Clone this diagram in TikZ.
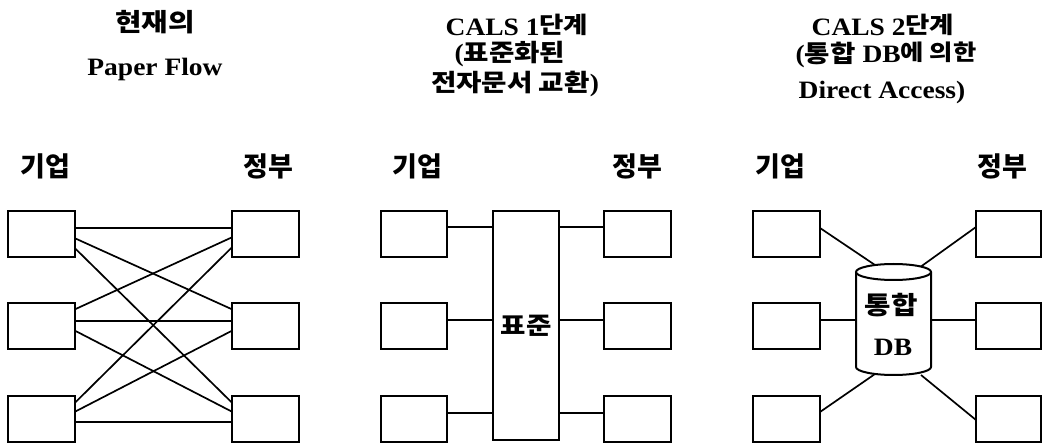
\documentclass[tikz,border=0pt]{standalone}
\usepackage{fontspec}
\setmainfont{Liberation Serif}[FakeStretch=1.1]
\newfontfamily\kr{Noto Sans CJK KR}[FakeStretch=1.15]
\newfontfamily\krn{Noto Sans CJK KR}
\usetikzlibrary{calc}
\begin{document}
\begin{tikzpicture}[x=1pt,y=-1pt,
  bx/.style={draw,line width=2pt,minimum width=67pt,minimum height=46pt,inner sep=0pt,outer sep=0pt},
  ln/.style={line width=1.7pt},
  krt/.style={font=\kr\bfseries\fontsize{25}{26}\selectfont,inner sep=0pt,anchor=base},
  tmt/.style={font=\bfseries\fontsize{25}{26}\selectfont,inner sep=0pt,anchor=base},
  hd/.style={font=\krn\bfseries\fontsize{27}{27}\selectfont,inner sep=0pt}]
\useasboundingbox (0,0) rectangle (1042,443);
% ---------- titles ----------
\node[krt] (t1a) at (155,32) {현재의};
\node[tmt] (t1b) at (155,76) {Paper Flow};
\node[tmt] (t2a) at (517,36) {CALS 1\raisebox{2pt}{\kr\fontsize{23}{23}\selectfont 단계}};
\node[tmt] (t2b) at (510,62) {({\kr\fontsize{24}{24}\selectfont 표준화된}};
\node[tmt] (t2c) at (515,92) {{\kr\fontsize{24}{24}\selectfont 전자문서 교환})};
\node[tmt] (t3a) at (883,36) {CALS 2\raisebox{2pt}{\kr\fontsize{23}{23}\selectfont 단계}};
\node[tmt] (t3b) at (886,63) {({\kr\fontsize{24}{24}\selectfont 통합} DB\raisebox{2pt}{\kr\fontsize{22}{22}\selectfont 에 의한}};
\node[tmt] (t3c) at (882,99) {Direct Access)};
% ---------- headers ----------
\node[hd] (h1) at (45.5,166) {기업};
\node[hd] (h2) at (268.5,166) {정부};
\node[hd] (h3) at (417,166) {기업};
\node[hd] (h4) at (637,166) {정부};
\node[hd] (h5) at (780,166) {기업};
\node[hd] (h6) at (1002,166) {정부};
% ---------- panel 1 ----------
\node[bx] (a1) at (41.5,234) {};
\node[bx] (a2) at (41.5,326) {};
\node[bx] (a3) at (41.5,419) {};
\node[bx] (b1) at (265.5,234) {};
\node[bx] (b2) at (265.5,326) {};
\node[bx] (b3) at (265.5,419) {};
\draw[ln] ([yshift=5.7pt]a1.east) -- ([yshift=5.7pt]b1.west);
\draw[ln] ([yshift=-4.3pt]a1.east) -- ([yshift=16.7pt]b2.west);
\draw[ln] ([yshift=-14.3pt]a1.east) -- ([yshift=16.3pt]b3.west);
\draw[ln] ([yshift=16.7pt]a2.east) -- ([yshift=-3.3pt]b1.west);
\draw[ln] ([yshift=5.3pt]a2.east) -- ([yshift=5.3pt]b2.west);
\draw[ln] ([yshift=-4.7pt]a2.east) -- ([yshift=7.3pt]b3.west);
\draw[ln] ([yshift=16.3pt]a3.east) -- ([yshift=-13.3pt]b1.west);
\draw[ln] ([yshift=7.3pt]a3.east) -- ([yshift=-4.7pt]b2.west);
\draw[ln] ([yshift=-2.7pt]a3.east) -- ([yshift=-2.7pt]b3.west);
% ---------- panel 2 ----------
\node[bx,minimum width=66pt] (c1) at (414,234) {};
\node[bx,minimum width=66pt] (c2) at (414,326) {};
\node[bx,minimum width=66pt] (c3) at (414,419) {};
\node[bx,minimum width=66pt,minimum height=229pt,font=\kr\bfseries\fontsize{24}{24}\selectfont] (std) at (526,325.5) {표준};
\node[bx] (d1) at (637.5,234) {};
\node[bx] (d2) at (637.5,326) {};
\node[bx] (d3) at (637.5,419) {};
\path ([yshift=7pt]c1.east) coordinate (p1);
\path ([yshift=6pt]c2.east) coordinate (p2);
\path ([yshift=6pt]c3.east) coordinate (p3);
\foreach \i in {1,2,3}{
  \draw[ln] (p\i) -- (p\i -| std.west);
  \draw[ln] (p\i -| std.east) -- (p\i -| d\i.west);
}
% ---------- panel 3 ----------
\node[bx] (e1) at (786.5,234) {};
\node[bx] (e2) at (786.5,326) {};
\node[bx] (e3) at (786.5,419) {};
\node[bx,minimum width=65pt] (f1) at (1008.5,234) {};
\node[bx,minimum width=65pt] (f2) at (1008.5,326) {};
\node[bx,minimum width=65pt] (f3) at (1008.5,419) {};
\draw[line width=2pt] (856,272) -- (856,367) arc[start angle=180,end angle=0,x radius=37.5,y radius=8] -- (931,272);
\draw[line width=2pt] (893.5,272) ellipse [x radius=37.5,y radius=8];
\node[font=\kr\bfseries\fontsize{25}{25}\selectfont,inner sep=0pt] (db1) at (891,305) {통합};
\node[font=\bfseries\fontsize{25}{25}\selectfont,inner sep=0pt] (db2) at (893,347) {DB};
\coordinate (dbtl) at (875,265);
\coordinate (dbtr) at (921,266.5);
\coordinate (dbl) at (856,320);
\coordinate (dbr) at (931,320);
\coordinate (dbbl) at (875,374);
\coordinate (dbbr) at (921,375);
\draw[ln] ([yshift=6pt]e1.east) -- (dbtl);
\draw[ln] ([yshift=7pt]f1.west) -- (dbtr);
\draw[ln] ([yshift=6pt]e2.east) -- (dbl);
\draw[ln] ([yshift=6pt]f2.west) -- (dbr);
\draw[ln] ([yshift=7pt]e3.east) -- (dbbl);
\draw[ln] ([yshift=-1pt]f3.west) -- (dbbr);
\end{tikzpicture}
\end{document}
